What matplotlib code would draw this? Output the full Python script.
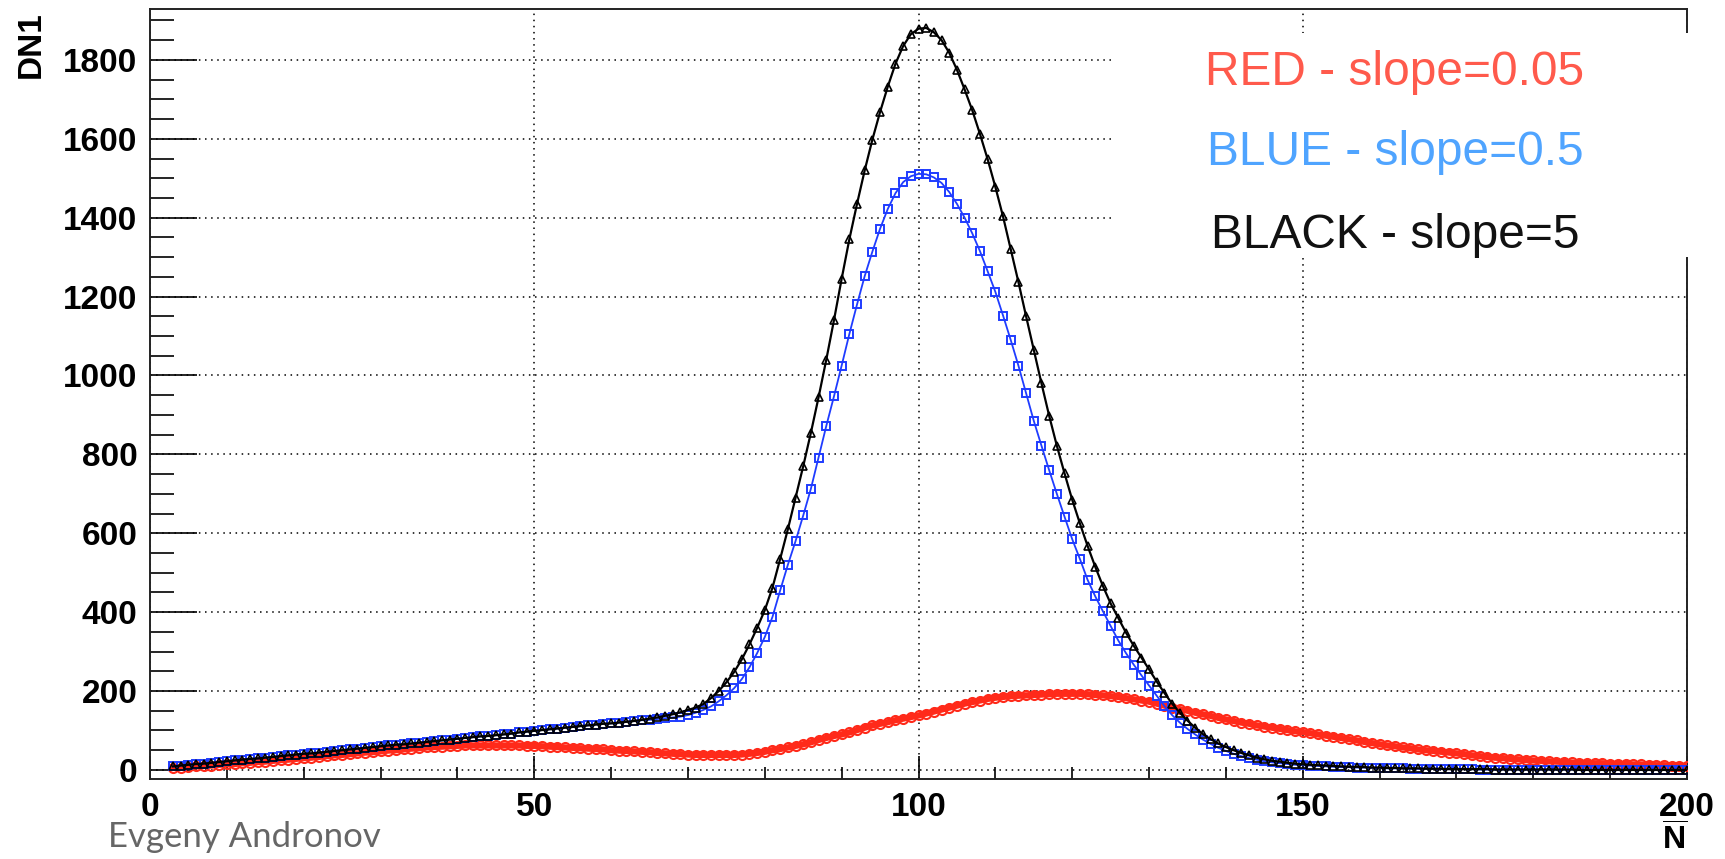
import numpy as np
import matplotlib.pyplot as plt
from matplotlib.patches import Rectangle
from matplotlib.ticker import MultipleLocator

plt.rcParams['mathtext.fontset'] = 'custom'
plt.rcParams['mathtext.bf'] = 'Liberation Sans:bold'

# bin centres N = 3..200
n_bar = np.arange(3, 201)

# rising part shared by the blue and black curves, N = 3..63
low_common = [9, 11, 13, 15, 16, 18, 20, 22, 24, 26,
              28, 29, 31, 33, 35, 37, 39, 41, 42, 44,
              46, 48, 50, 52, 54, 56, 58, 60, 62, 64,
              65, 67, 69, 71, 73, 75, 77, 79, 81, 83,
              85, 86, 88, 90, 92, 95, 97, 99, 101, 103,
              105, 107, 109, 111, 113, 115, 117, 118, 120, 122,
              124]

# black (slope=5), N = 64..200
black_rest = [127, 130, 133, 137, 141, 146, 152, 158, 167, 182,
              200, 222, 248, 280, 318, 360, 405, 462, 535, 610,
              690, 770, 855, 945, 1040, 1140, 1245, 1345, 1435, 1520,
              1598, 1668, 1732, 1790, 1835, 1865, 1879, 1881, 1870, 1850,
              1818, 1775, 1725, 1672, 1612, 1548, 1478, 1403, 1320, 1237,
              1150, 1065, 980, 898, 822, 752, 685, 625, 568, 515,
              466, 422, 385, 348, 315, 285, 255, 224, 195, 168,
              145, 125, 107, 91, 78, 67, 58, 50, 43, 37,
              31, 27, 23, 21, 18, 16, 14, 13, 12, 11,
              10, 9, 8, 8, 7, 6, 6, 5, 5, 4,
              4, 4, 3, 3, 3, 2, 2, 2, 2, 2,
              2, 1, 1, 1, 1, 1, 1, 1, 1, 1,
              1, 1, 0, 0, 0, 0, 0, 0, 0, 0,
              0, 0, 0, 0, 0, 0, 0]

# blue (slope=0.5), N = 64..200
blue_rest = [126, 127, 129, 131, 133, 135, 139, 145, 152, 161,
             174, 189, 207, 230, 260, 296, 337, 388, 455, 520,
             580, 645, 713, 792, 872, 947, 1025, 1105, 1180, 1252,
             1314, 1372, 1422, 1462, 1490, 1505, 1511, 1510, 1502, 1488,
             1465, 1435, 1400, 1360, 1315, 1264, 1212, 1152, 1090, 1025,
             955, 885, 822, 760, 700, 642, 585, 535, 482, 440,
             402, 365, 328, 296, 267, 240, 214, 188, 162, 139,
             120, 104, 90, 77, 66, 56, 48, 41, 35, 30,
             26, 22, 19, 17, 15, 13, 12, 11, 10, 9,
             8, 7, 7, 6, 6, 5, 5, 4, 4, 4,
             3, 3, 3, 2, 2, 2, 2, 2, 2, 1,
             1, 1, 1, 1, 1, 1, 1, 1, 1, 1,
             1, 1, 1, 1, 1, 1, 0, 0, 0, 0,
             0, 0, 0, 0, 0, 0, 0]

# red (slope=0.05), N = 3..200
red_dn1 = [5, 6, 8, 9, 10, 11, 13, 14, 15, 17,
           18, 20, 21, 23, 25, 26, 28, 30, 31, 33,
           35, 37, 38, 40, 42, 44, 45, 47, 49, 50,
           52, 54, 55, 57, 58, 59, 60, 61, 62, 62,
           62, 62, 62, 62, 62, 62, 61, 61, 60, 59,
           58, 57, 56, 55, 54, 53, 52, 50, 49, 48,
           47, 46, 45, 43, 42, 41, 40, 39, 38, 38,
           38, 38, 38, 38, 39, 41, 43, 46, 50, 53,
           57, 61, 65, 70, 76, 81, 86, 90, 95, 101,
           107, 113, 117, 121, 126, 130, 134, 138, 143, 148,
           153, 158, 163, 168, 172, 176, 180, 183, 185, 187,
           188, 189, 190, 191, 192, 193, 193, 193, 193, 192,
           190, 189, 187, 185, 182, 179, 176, 173, 168, 163,
           158, 154, 150, 145, 141, 137, 132, 128, 124, 120,
           117, 113, 110, 107, 104, 101, 98, 96, 93, 90,
           87, 84, 81, 78, 75, 71, 68, 65, 62, 60,
           57, 55, 52, 50, 48, 46, 44, 42, 40, 37,
           35, 33, 31, 30, 28, 27, 25, 24, 23, 22,
           21, 20, 19, 18, 18, 17, 17, 16, 15, 15,
           14, 14, 13, 12, 12, 11, 11, 10]

black_dn1 = np.array(low_common + black_rest)
blue_dn1 = np.array(low_common + blue_rest)

legend_labels = ["RED - slope=0.05", "BLUE - slope=0.5", "BLACK - slope=5"]
legend_colors = ['#ff5a4c', '#4fa4ff', '#111111']

W, H = 1725, 859
fig = plt.figure(figsize=(W / 100, H / 100), dpi=100)
ax = fig.add_axes([150 / W, 80 / H, 1537 / W, 770 / H])

ax.plot(n_bar, red_dn1, '-', color='#ff2a1a', lw=4.5, zorder=3)
ax.plot(n_bar, red_dn1, 'o', color='#ff2a1a', ms=6.5, mfc='none', mew=1.5, zorder=3)
ax.plot(n_bar, blue_dn1, '-', color='#1f3cff', lw=1.3, marker='s', ms=6, mfc='none',
        mec='#1f3cff', mew=1.4, zorder=4)
ax.plot(n_bar, black_dn1, '-', color='black', lw=1.6, marker='^', ms=6, mfc='none',
        mec='black', mew=1.2, zorder=5)

ax.set_xlim(0, 200)
ax.set_ylim(-23, 1929)
ax.xaxis.set_major_locator(MultipleLocator(50))
ax.xaxis.set_minor_locator(MultipleLocator(10))
ax.yaxis.set_major_locator(MultipleLocator(200))
ax.yaxis.set_minor_locator(MultipleLocator(50))

ax.set_axisbelow(True)
ax.grid(which='major', color='black', linestyle=(0, (1, 3)), lw=1.1)

for sp in ax.spines.values():
    sp.set_linewidth(1.4)
    sp.set_color('#222222')

ax.tick_params(axis='y', which='major', direction='in', length=34, width=1.2, pad=9)
ax.tick_params(axis='y', which='minor', direction='in', length=17, width=1.2)
ax.tick_params(axis='x', which='major', direction='in', length=16.5, width=1.2, pad=9)
ax.tick_params(axis='x', which='minor', direction='in', length=8.5, width=1.2)
for lab in ax.get_xticklabels() + ax.get_yticklabels():
    lab.set_fontfamily('Liberation Sans')
    lab.set_fontweight('bold')
    lab.set_fontsize(24)

fig.text(31 / W, 1 - 11 / H, 'DN1', rotation=90, ha='center', va='top',
         fontsize=24, fontweight='bold', family='Liberation Sans')
fig.text(1687 / W, 1 - 857 / H, r'$\mathbf{\overline{N}}$', ha='right', va='bottom',
         fontsize=23)
fig.text(108 / W, 1 - 847 / H, 'Evgeny Andronov', ha='left', va='baseline',
         fontsize=25, color='#666666', family='Lato')

# white box holding the slope legend, drawn over the frame
fig.patches.append(Rectangle((1113 / W, 1 - 257 / H), 597 / W, 224 / H,
                             transform=fig.transFigure, facecolor='white',
                             edgecolor='none', zorder=5))
baselines = [85, 165, 248]
for label, color, yb in zip(legend_labels, legend_colors, baselines):
    fig.text(1395 / W, 1 - yb / H, label, color=color, ha='center', va='baseline',
             fontsize=34.5, family='Liberation Sans', zorder=6)

fig.savefig('out.png', dpi=100)
